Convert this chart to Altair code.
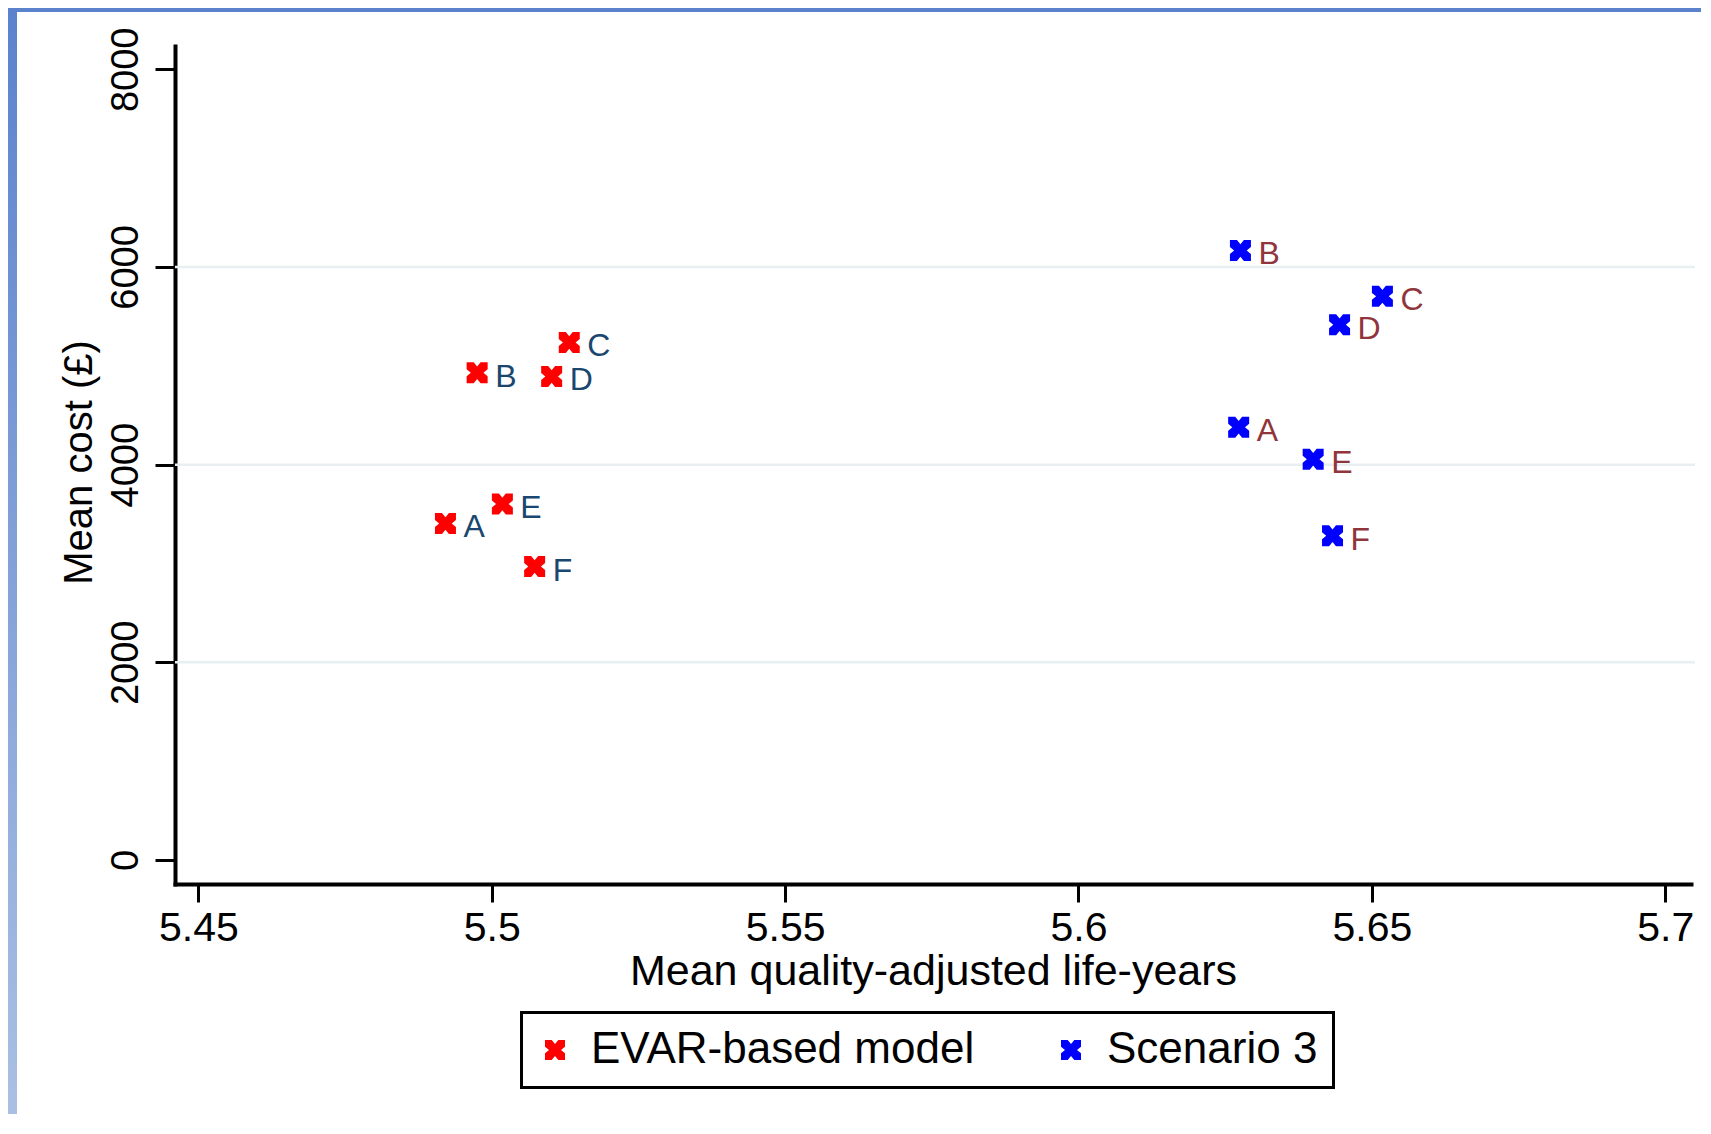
import altair as alt
import pandas as pd

# ---- data ----
series_names = ["EVAR-based model", "Scenario 3"]
point_labels = ["A", "B", "C", "D", "E", "F"]
evar_qaly = [5.4921, 5.4975, 5.5132, 5.5102, 5.5018, 5.5073]
evar_cost = [3405, 4930, 5236, 4892, 3602, 2969]
scen3_qaly = [5.6273, 5.6276, 5.6518, 5.6445, 5.6400, 5.6433]
scen3_cost = [4378, 6167, 5703, 5415, 4054, 3280]
x_ticks = [5.45, 5.5, 5.55, 5.6, 5.65, 5.7]
y_ticks = [0, 2000, 4000, 6000, 8000]
grid_values = [2000, 4000, 6000]

df = pd.DataFrame({
    "series": [series_names[0]] * len(evar_qaly) + [series_names[1]] * len(scen3_qaly),
    "label": point_labels + point_labels,
    "qaly": evar_qaly + scen3_qaly,
    "cost": evar_cost + scen3_cost,
})
grid_df = pd.DataFrame({"cost": grid_values})

W, H = 1516, 838
PAD = {"left": 167, "top": 38, "right": 10, "bottom": 230}

X_PATH = ("M -1 -1 L -0.33 -1 L 0 -0.6 L 0.33 -1 L 1 -1 L 1 -0.33 L 0.6 0 "
          "L 1 0.33 L 1 1 L 0.33 1 L 0 0.6 L -0.33 1 L -1 1 L -1 0.33 "
          "L -0.6 0 L -1 -0.33 Z")

FONT = "Liberation Sans"

x_scale = alt.Scale(domain=[5.446, 5.7044], nice=False, zero=False)
y_scale = alt.Scale(domain=[-243, 8236], nice=False, zero=False)

x_axis = alt.Axis(
    values=x_ticks, format="~g", title="Mean quality-adjusted life-years",
    grid=False, domainColor="black", domainWidth=4, domainCap="square",
    tickColor="black", tickWidth=3, tickSize=18,
    labelFont=FONT, labelFontSize=41, labelColor="black",
    labelPadding=6, labelBaseline="top", labelFlush=False, labelOverlap=False,
    titleFont=FONT, titleFontSize=43, titleFontWeight="normal",
    titleColor="black", titleX=W / 2, titleY=100, titleBaseline="alphabetic",
    titleAlign="center",
)
y_axis = alt.Axis(
    values=y_ticks, format="d", title="Mean cost (£)",
    grid=False, domainColor="black", domainWidth=4, domainCap="square",
    tickColor="black", tickWidth=3, tickSize=20,
    labelAngle=270, labelAlign="center", labelBaseline="alphabetic",
    labelPadding=18, labelFont=FONT, labelFontSize=38, labelColor="black",
    labelFlush=False, labelOverlap=False,
    titleFont=FONT, titleFontSize=40, titleFontWeight="normal",
    titleColor="black", titleAngle=270, titleX=-84, titleY=416,
    titleBaseline="alphabetic", titleAlign="center",
)

x_enc = alt.X("qaly:Q", scale=x_scale, axis=x_axis)
y_enc = alt.Y("cost:Q", scale=y_scale, axis=y_axis)

one = pd.DataFrame({"k": [0]})
frame_left = alt.Chart(one).mark_rect(
    color=alt.LinearGradient(
        gradient="linear",
        stops=[alt.GradientStop(color="#5b82cd", offset=0),
               alt.GradientStop(color="#aac0e3", offset=1)],
        x1=0, x2=0, y1=0, y2=1,
    )
).encode(x=alt.value(-PAD["left"]), x2=alt.value(-PAD["left"] + 9),
         y=alt.value(-PAD["top"]), y2=alt.value(H + PAD["bottom"]))
frame_top = alt.Chart(one).mark_rect(color="#5b82cd").encode(
    x=alt.value(-PAD["left"]), x2=alt.value(W + PAD["right"]),
    y=alt.value(-PAD["top"]), y2=alt.value(-PAD["top"] + 4))

grid = alt.Chart(grid_df).mark_rule(color="#e7eff1", strokeWidth=2.5).encode(
    y=y_enc, x=alt.value(0), x2=alt.value(W + 4))

points = alt.Chart(df).mark_point(
    shape=X_PATH, filled=True, size=441, opacity=1, strokeWidth=0
).encode(
    x=x_enc, y=y_enc,
    color=alt.Color(
        "series:N",
        scale=alt.Scale(domain=series_names, range=["#ff0000", "#0000ff"]),
        legend=alt.Legend(
            title=None, orient="none", legendX=346.5, legendY=966.5,
            direction="horizontal", symbolType=X_PATH, symbolSize=400,
            symbolStrokeWidth=0, labelFont=FONT, labelFontSize=44,
            labelColor="black", labelOffset=14, columnPadding=78, padding=15.5,
            symbolOffset=-4, strokeColor="black", labelLimit=1000,
        ),
    ),
)

labels = alt.Chart(df).mark_text(
    align="left", baseline="middle", dx=18, dy=4,
    font=FONT, fontSize=32,
).encode(
    x=x_enc, y=y_enc, text="label:N",
    color=alt.Color(
        "series:N",
        scale=alt.Scale(domain=series_names, range=["#1a476f", "#90353b"]),
        legend=None,
    ),
)

chart = alt.layer(frame_left, frame_top, grid, points, labels).resolve_scale(
    color="independent"
).properties(
    width=W, height=H, padding=PAD,
    autosize=alt.AutoSizeParams(type="none"),
    background="white",
).configure_view(stroke=None).configure_legend(strokeWidth=3)

chart.save("out.html", embed_options={"renderer": "svg", "actions": False})
